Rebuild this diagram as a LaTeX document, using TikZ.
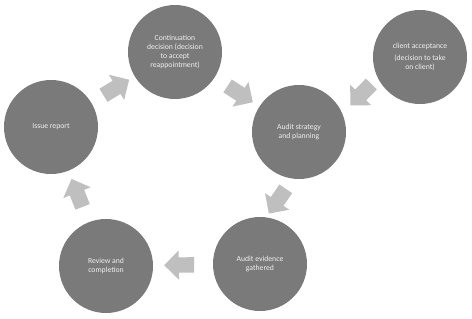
\documentclass[tikz,border=0pt]{standalone}
\usepackage{fontspec}
\setmainfont{Carlito}
\usepackage{xcolor}
\usetikzlibrary{shapes.arrows}

\definecolor{stagegray}{HTML}{7A7A7A}
\definecolor{arrowgray}{HTML}{BFBFBF}
\definecolor{stagetext}{HTML}{F0F0F0}

\tikzset{
  stage/.style={circle,fill=stagegray,minimum size=94pt,inner sep=0pt,
    align=center,text=stagetext,font=\fontsize{7.7}{9}\selectfont},
  flowarrow/.style={single arrow,fill=arrowgray,inner xsep=0pt,inner ysep=7.5pt,
    single arrow head extend=7pt,minimum height=30pt,sloped,allow upside down}
}

\begin{document}
\begin{tikzpicture}[x=1pt,y=-1pt]
    \useasboundingbox (0,0) rectangle (472,319);
    \node[stage] (cont) at (175,52) {Continuation\\decision (decision\\to accept\\reappointment)};
    \node[stage] (client) at (420,57) {client acceptance\\[3pt](decision to take\\on client)};
    \node[stage] (plan) at (299,132) {Audit strategy\\and planning};
    \node[stage] (issue) at (51,127) {Issue report};
    \node[stage] (evid) at (260,264) {Audit evidence\\gathered};
    \node[stage] (review) at (106,266) {Review and\\completion};
    % block arrows between the stages
    \path (issue) -- node[flowarrow] {} (cont);
    \path (cont) -- node[flowarrow] {} (plan);
    \path (client) -- node[flowarrow,pos=0.4,rotate=14] {} (plan);
    \path (plan) -- node[flowarrow,rotate=-18] {} (evid);
    \path (evid) -- node[flowarrow] {} (review);
    \path (review) -- node[flowarrow] {} (issue);
\end{tikzpicture}
\end{document}
